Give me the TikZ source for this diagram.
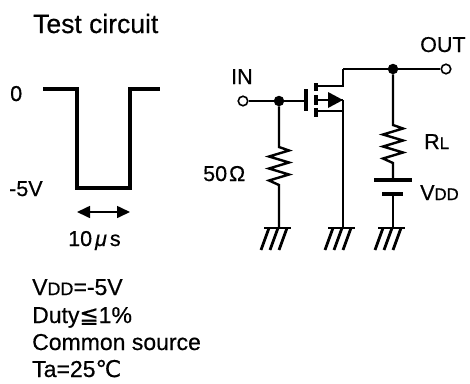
\documentclass[tikz,border=0pt]{standalone}
\usepackage{fontspec}
\setmainfont{Liberation Sans}[FakeBold=0.5]
\newfontfamily\dejavu{DejaVu Sans}[FakeBold=0.5]
\usepackage{graphicx}
\usetikzlibrary{arrows.meta}
\newcommand\lowsc[1]{\scalebox{0.78}{#1}}
\begin{document}
\begin{tikzpicture}[x=1pt,y=-1pt,
  wire/.style={line width=2.4pt},
  wave/.style={line width=4pt,line join=miter},
  plate/.style={line width=3.2pt},
  lbl/.style={inner sep=0pt,anchor=base west,font=\fontsize{21.5}{25}\selectfont},
  title/.style={inner sep=0pt,anchor=base west,font=\fontsize{26.5}{30}\selectfont},
  note/.style={inner sep=0pt,anchor=base west,font=\fontsize{23}{27}\selectfont},
  jdot/.style={circle,fill=black,inner sep=0pt,minimum size=10.5pt},
  term/.style={circle,draw=black,fill=white,line width=1.6pt,inner sep=0pt,minimum size=9.5pt},
  gnd/.pic={
    \draw[line width=2.8pt] (-15,0) -- (12,0);
    \draw[line width=2.8pt] (-10,0) -- (-18,22);
    \draw[line width=2.8pt] (-1,0) -- (-9,22);
    \draw[line width=2.8pt] (8,0) -- (0,22);
  }]
\useasboundingbox (0,0) rectangle (470,383);

% ---- title ----
\node[title] (ttl) at (33,33) {Test circuit};

% ---- waveform ----
\draw[wave] (43,89) -- (77,89) -- (77,188) -- (130,188) -- (130,89) -- (160,89);
\node[lbl] (l0) at (10,101) {0};
\node[lbl] (l5) at (9,196) {-5V};
\coordinate (al) at (77,212);
\coordinate (ar) at (130,212);
\draw[line width=1.6pt,{Triangle[length=13pt,width=12pt]}-{Triangle[length=13pt,width=12pt]}] (al) -- (ar);
\node[lbl] (lt) at (68,246) {10\kern3pt{\itshape μ}\kern3pt s};

% ---- input side ----
\node[term] (in) at (243,101) {};
\node[jdot] (j1) at (279,101) {};
\coordinate (gate) at (306,101);
\draw[wire] (in) -- (j1) -- (gate);
\node[lbl] (lin) at (231,84) {IN};

% 50 ohm resistor
\coordinate (r1t) at (279,147);
\coordinate (r1b) at (279,185);
\coordinate (g1) at (279,228);
\draw[wire,line join=miter] (j1) -- (r1t) -- ++(10,3.5) -- ++(-20,6) -- ++(20,6) -- ++(-20,6) -- ++(20,6) -- ++(-20,6) -- (r1b) -- (g1);
\pic at (g1) {gnd};
\node[lbl] (l50) at (203,181) {50\kern2pt Ω};

% ---- MOSFET ----
\draw[plate] (306,89) -- (306,111);
\draw[plate] (316,83) -- (316,91) (316,95) -- (316,105) (316,108) -- (316,117);
\coordinate (dtop) at (343,69);
\coordinate (g2) at (343,228);
\draw[wire,line join=miter] (316,86) -- (343,86) -- (dtop);
\draw[wire] (316,100) -- (343,100);
\draw[wire] (316,111) -- (343,111);
\draw[wire] (343,100) -- (g2);
\fill (328,92) -- (343,100) -- (328,108) -- cycle;
\pic at (g2) {gnd};

% ---- output side ----
\node[jdot] (j2) at (393,69) {};
\node[term] (out) at (446,69) {};
\draw[wire] (dtop) -- (j2) -- (out);
\node[lbl] (lout) at (420,52) {OUT};

% RL
\coordinate (r2t) at (393,125);
\coordinate (r2b) at (393,163);
\coordinate (bt) at (393,180);
\draw[wire,line join=miter] (j2) -- (r2t) -- ++(10,3.5) -- ++(-20,6) -- ++(20,6) -- ++(-20,6) -- ++(20,6) -- ++(-20,6) -- (r2b) -- (bt);
\node[lbl] (lrl) at (424,149) {R\lowsc{L}};

% battery
\draw[plate] (374,180) -- (412,180);
\draw[plate] (382,194) -- (403,194);
\coordinate (bb) at (393,194);
\coordinate (g3) at (393,228);
\draw[wire] (bb) -- (g3);
\pic at (g3) {gnd};
\node[lbl] (lvdd) at (420,200) {V\lowsc{DD}};

% ---- notes ----
\node[note] (n1) at (32,295) {V\lowsc{DD}=-5V};
\node[note] (n2) at (32,323) {Duty{\dejavu ≦}1\%};
\node[note] (n3) at (32,350) {Common source};
\node[note] (n4) at (32,377) {Ta=25{\dejavu ℃}};
\end{tikzpicture}
\end{document}
